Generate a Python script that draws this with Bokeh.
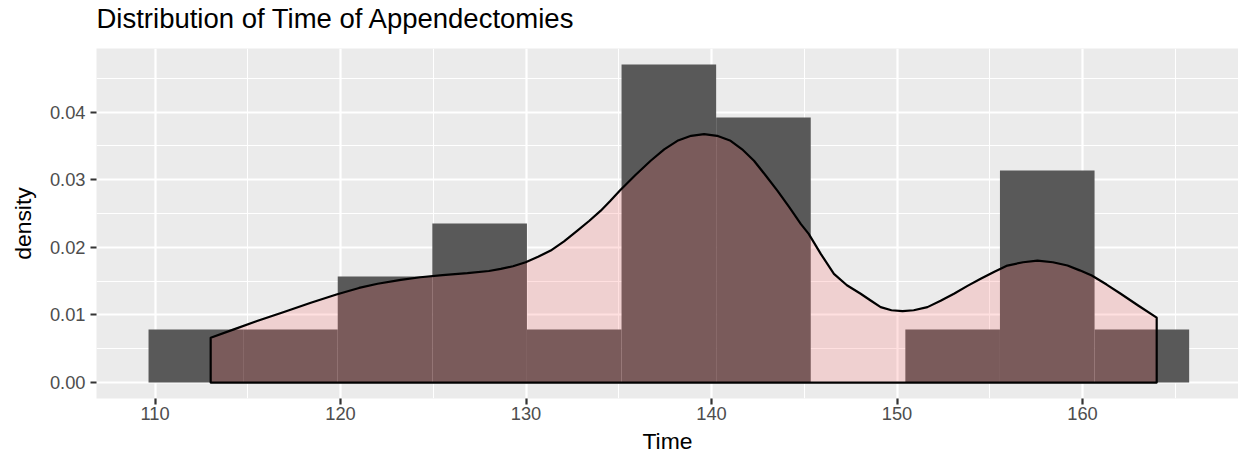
from bokeh.plotting import figure
from bokeh.models import (FixedTicker, PrintfTickFormatter, Range1d,
                          ColumnDataSource, Title)
from bokeh.embed import file_html
from bokeh.resources import INLINE

# ---- data ----
title_text = "Distribution of Time of Appendectomies"
n_obs = 25
bin_breaks = [109.65, 114.75, 119.85, 124.95, 130.05, 135.15, 140.25,
              145.35, 150.45, 155.55, 160.65, 165.75]
bin_counts = [1, 1, 2, 3, 1, 6, 5, 0, 1, 4, 1]

density_x = [113.0, 114.25, 115.5, 116.95, 118.4, 119.78, 121.0, 122.0, 123.25,
             124.3, 125.5, 126.84, 128.0, 128.64, 129.3, 129.98, 130.65, 131.33,
             132.05, 132.77, 133.4, 134.03, 134.55, 135.05, 135.9, 136.72,
             137.45, 138.16, 138.9, 139.6, 140.3, 141.03, 141.65, 142.29,
             142.9, 143.55, 144.2, 144.81, 145.24, 145.9, 146.6, 147.3, 148.04,
             148.6, 149.12, 149.7, 150.3, 150.9, 151.64, 152.35, 153.07, 153.8,
             154.51, 155.25, 155.95, 156.8, 157.57, 158.4, 159.19, 159.85,
             160.5, 161.3, 162.06, 163.0, 164.0]
density_y = [0.00664, 0.00787, 0.0091, 0.01045, 0.0118, 0.01303, 0.0140,
             0.01462, 0.0152, 0.01558, 0.0159, 0.01618, 0.0165, 0.01682,
             0.0172, 0.0178, 0.0186, 0.01953, 0.0209, 0.02248, 0.0239,
             0.02543, 0.0269, 0.02838, 0.0307, 0.03281, 0.0345, 0.03576,
             0.0365, 0.03675, 0.0365, 0.03576, 0.0345, 0.03281, 0.0307,
             0.02838, 0.0259, 0.02347, 0.02199, 0.0190, 0.01609, 0.0144,
             0.01314, 0.0121, 0.01116, 0.0107, 0.01057, 0.0107, 0.01116,
             0.0121, 0.01314, 0.0143, 0.01535, 0.0164, 0.01731, 0.0178,
             0.01805, 0.0178, 0.01731, 0.0166, 0.01584, 0.0145, 0.01314,
             0.0114, 0.0096]

x_ticks = [110, 120, 130, 140, 150, 160]
x_minor = [105, 115, 125, 135, 145, 155, 165]
y_ticks = [0.0, 0.01, 0.02, 0.03, 0.04]
y_minor = [0.005, 0.015, 0.025, 0.035, 0.045]

bin_width = bin_breaks[1] - bin_breaks[0]
bar_top = [c / (n_obs * bin_width) for c in bin_counts]

p = figure(width=1238, height=456, output_backend="svg", toolbar_location=None,
           title=None,
           x_range=Range1d(106.845, 168.41), y_range=Range1d(-0.002353, 0.049412),
           min_border_left=96, min_border_right=0, min_border_top=47,
           min_border_bottom=58)

p.background_fill_color = "#EBEBEB"
p.border_fill_color = "white"
p.outline_line_color = None

src = ColumnDataSource(dict(left=bin_breaks[:-1], right=bin_breaks[1:],
                            top=bar_top, bottom=[0] * len(bar_top)))
p.quad(left="left", right="right", top="top", bottom="bottom", source=src,
       fill_color="#595959", line_color=None)

px = [density_x[0]] + density_x + [density_x[-1]]
py = [0.0] + density_y + [0.0]
p.patch(px, py, fill_color="#FF6666", fill_alpha=0.2, line_color="black",
        line_width=2.2, line_join="round")

# title: a thin spacer next to the frame, then the real title above it
p.add_layout(Title(text=" ", text_font_size="1px", standoff=12), "above")
p.add_layout(Title(text=title_text, text_font="Liberation Sans",
                   text_font_size="27.5px", text_font_style="normal",
                   text_color="black", align="left", standoff=0), "above")

# axes
for ax in (p.xaxis[0], p.yaxis[0]):
    ax.axis_line_color = None
    ax.major_tick_line_color = "#333333"
    ax.major_tick_line_width = 2.2
    ax.major_tick_out = 6
    ax.major_tick_in = 0
    ax.minor_tick_line_color = None
    ax.major_label_text_font = "Liberation Sans"
    ax.major_label_text_font_size = "18.3px"
    ax.major_label_text_color = "#4D4D4D"
    ax.axis_label_text_font = "Liberation Sans"
    ax.axis_label_text_font_size = "22.9px"
    ax.axis_label_text_font_style = "normal"
    ax.axis_label_text_color = "black"

p.xaxis.ticker = FixedTicker(ticks=x_ticks, minor_ticks=x_minor)
p.yaxis.ticker = FixedTicker(ticks=y_ticks, minor_ticks=y_minor)
p.yaxis.formatter = PrintfTickFormatter(format="%.2f")
p.xaxis.axis_label = "Time"
p.yaxis.axis_label = "density"
p.xaxis.major_label_standoff = 2
p.xaxis.axis_label_standoff = 5
p.yaxis.major_label_standoff = 5
p.yaxis.axis_label_standoff = 11

for g in (p.xgrid[0], p.ygrid[0]):
    g.grid_line_color = "white"
    g.grid_line_width = 2.2
    g.minor_grid_line_color = "white"
    g.minor_grid_line_width = 1.1

open("out.html", "w").write(file_html(p, INLINE))
